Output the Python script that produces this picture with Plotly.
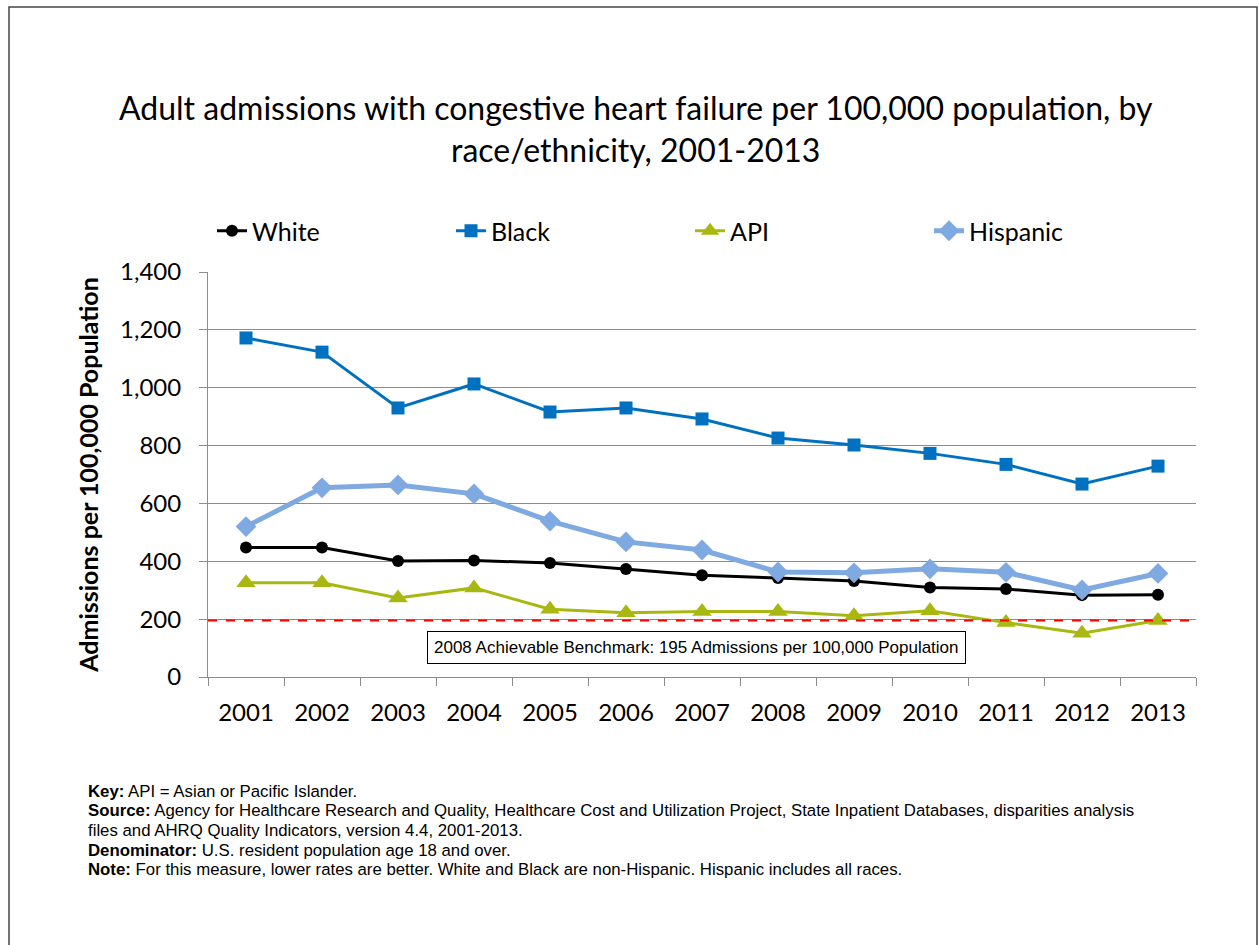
import plotly.graph_objects as go

years = [str(y) for y in range(2001, 2014)]
white = [448, 448, 401, 403, 394, 373, 352, 342, 332, 309, 304, 283, 284]
black = [1172, 1123, 930, 1013, 916, 930, 892, 826, 802, 773, 735, 667, 729]
api = [326, 326, 273, 308, 234, 222, 226, 226, 212, 229, 188, 151, 195]
hispanic = [520, 654, 664, 633, 539, 467, 439, 363, 360, 374, 362, 301, 358]
benchmark = 195

y_ticks = [0, 200, 400, 600, 800, 1000, 1200, 1400]
y_tick_text = ["0", "200", "400", "600", "800", "1,000", "1,200", "1,400"]

FONT = "Lato"
NOTE_FONT = "Liberation Sans, Arial"
W, H = 1259, 945
L, R, T, B = 208, 63, 272, 268
pw, ph = W - L - R, H - T - B


def px_x(x):
    return (x - L) / pw


def px_y(y):
    return (H - B - y) / ph


fig = go.Figure()
series = [
    ("White", white, "#000000", 3, dict(symbol="circle", size=12)),
    ("Black", black, "#0070C0", 3, dict(symbol="square", size=13)),
    ("API", api, "#A8B810", 3, dict(symbol="triangle-up", size=17)),
    ("Hispanic", hispanic, "#7FA9E1", 5, dict(symbol="diamond", size=16)),
]
for name, vals, color, width, marker in series:
    fig.add_trace(go.Scatter(
        x=years, y=vals, name=name, mode="lines+markers",
        line=dict(color=color, width=width),
        marker=dict(color=color, **marker),
    ))

shapes = [
    # benchmark line
    dict(type="line", xref="paper", yref="y", x0=0, x1=1, y0=benchmark, y1=benchmark,
         line=dict(color="#FF0000", width=2, dash="dash")),
    # outer frame
    dict(type="rect", xref="paper", yref="paper",
         x0=px_x(9), x1=px_x(1257), y0=px_y(990), y1=px_y(7),
         line=dict(color="#444444", width=1.5), layer="below"),
]

annotations = [
    dict(text="Adult admissions with congestive heart failure per 100,000 population, by<br>race/ethnicity, 2001-2013",
         xref="paper", yref="paper", x=px_x(636), y=px_y(129), xanchor="center", yanchor="middle",
         showarrow=False, font=dict(family=FONT, size=32, color="#000000")),
    dict(text="2008 Achievable Benchmark: 195 Admissions per 100,000 Population",
         xref="paper", yref="paper", x=px_x(696), y=px_y(647), xanchor="center", yanchor="middle",
         showarrow=False, font=dict(family=NOTE_FONT, size=17, color="#000000"),
         bordercolor="#000000", borderwidth=1, borderpad=6, bgcolor="#FFFFFF"),
]

notes = [
    ("Key:", " API = Asian or Pacific Islander."),
    ("Source:", " Agency for Healthcare Research and Quality, Healthcare Cost and Utilization Project, State Inpatient Databases, disparities analysis"),
    ("", "files and AHRQ Quality Indicators, version 4.4, 2001-2013."),
    ("Denominator:", " U.S. resident population age 18 and over."),
    ("Note:", " For this measure, lower rates are better. White and Black are non-Hispanic. Hispanic includes all races."),
]
for i, (head, body) in enumerate(notes):
    txt = (f"<b>{head}</b>" if head else "") + body
    annotations.append(dict(
        text=txt, xref="paper", yref="paper", x=px_x(86), y=px_y(791 + i * 19.7),
        xanchor="left", yanchor="middle", showarrow=False,
        font=dict(family=NOTE_FONT, size=16.8, color="#000000")))

fig.update_layout(
    width=W, height=H,
    margin=dict(l=L, r=R, t=T, b=B),
    paper_bgcolor="#FFFFFF", plot_bgcolor="#FFFFFF",
    font=dict(family=FONT, color="#000000"),
    showlegend=True,
    legend=dict(orientation="h", x=px_x(212), y=px_y(231), xanchor="left", yanchor="middle",
                entrywidth=194, entrywidthmode="pixels", itemwidth=30,
                font=dict(family=FONT, size=25, color="#000000"), tracegroupgap=0),
    xaxis=dict(type="category", range=[-0.5, 12.5], tickson="boundaries", ticks="outside", ticklen=8,
               tickcolor="#8C8C8C", showline=True, linecolor="#8C8C8C", linewidth=1,
               showgrid=False, ticklabelstandoff=14,
               tickfont=dict(family=FONT, size=24, color="#000000")),
    yaxis=dict(range=[0, 1400], tickvals=y_ticks, ticktext=y_tick_text,
               ticks="outside", ticklen=8, tickcolor="#8C8C8C",
               showline=True, linecolor="#8C8C8C", linewidth=1,
               showgrid=True, gridcolor="#8C8C8C", gridwidth=1, zeroline=False,
               ticklabelstandoff=13,
               tickfont=dict(family=FONT, size=24, color="#000000"),
               title=dict(text="<b>Admissions per 100,000 Population</b>", standoff=14,
                          font=dict(family=FONT, size=25, color="#000000"))),
    shapes=shapes,
    annotations=annotations,
)

fig.write_html("out.html")
